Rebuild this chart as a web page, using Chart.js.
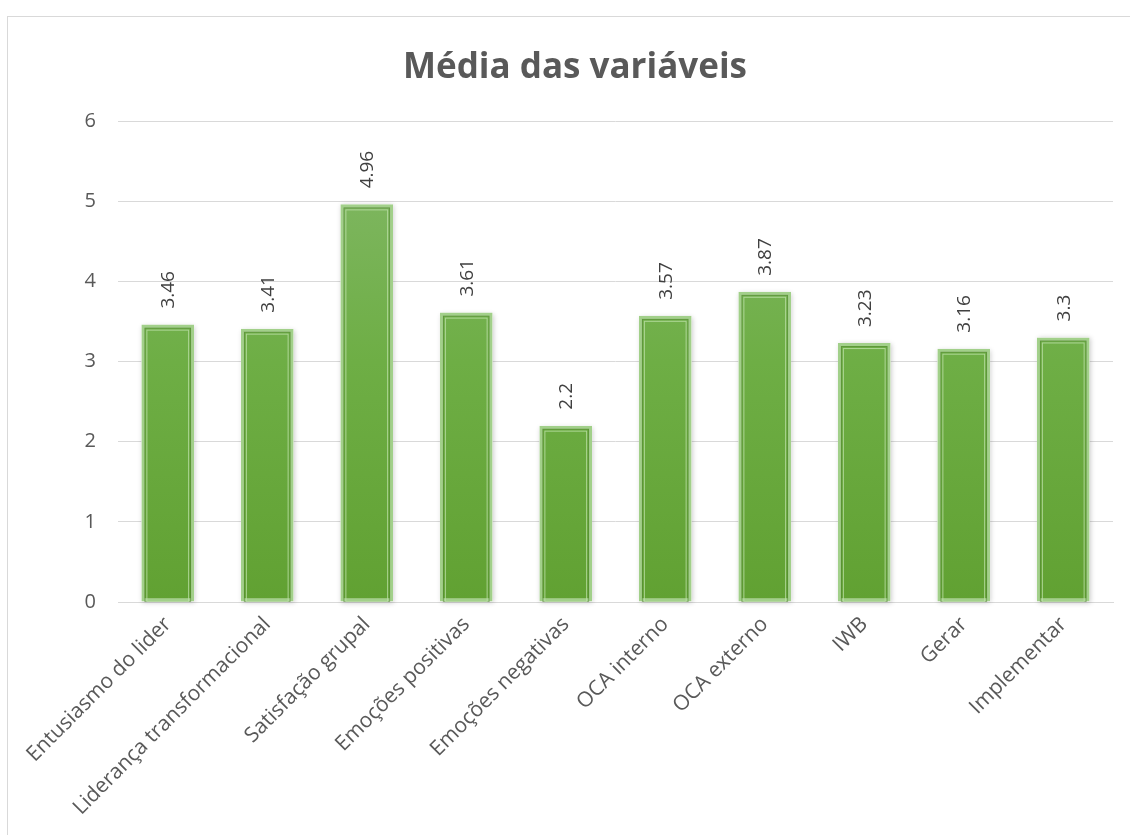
<!DOCTYPE html>
<html><head><meta charset="utf-8">
<script src="https://cdn.jsdelivr.net/npm/chart.js@4/dist/chart.umd.min.js"></script>
<style>
html,body{margin:0;padding:0;background:#fff;}
#wrap{position:relative;width:1130px;height:835px;overflow:hidden;}
#frame{position:absolute;left:7px;top:16px;width:1200px;height:900px;border:1px solid #d9d9d9;box-sizing:border-box;}
canvas{position:absolute;left:0;top:0;}
</style></head>
<body>
<div id="wrap"><div id="frame"></div><canvas id="c" width="1130" height="835"></canvas></div>
<script>
const categories = ["Entusiasmo do lider","Liderança transformacional","Satisfação grupal","Emoções positivas","Emoções negativas","OCA interno","OCA externo","IWB","Gerar","Implementar"];
const values = [3.46,3.41,4.96,3.61,2.2,3.57,3.87,3.23,3.16,3.3];
const yTicks = [0,1,2,3,4,5,6];
const titleText = "Média das variáveis";

const FONT = "'Open Sans', 'Liberation Sans', sans-serif";

const titlePlugin = {
  id:'titleText',
  afterDraw(chart){
    const ctx = chart.ctx;
    ctx.save();
    ctx.font = "bold 35px " + FONT;
    ctx.fillStyle = "#595959";
    ctx.textAlign = "center";
    ctx.textBaseline = "middle";
    ctx.fillText(titleText, 575, 68);
    ctx.restore();
  }
};

const labelPlugin = {
  id:'vlabels',
  afterDatasetsDraw(chart){
    const ctx = chart.ctx;
    const meta = chart.getDatasetMeta(0);
    ctx.save();
    ctx.font = "19px " + FONT;
    ctx.fillStyle = "#404040";
    ctx.textAlign = "left";
    ctx.textBaseline = "middle";
    meta.data.forEach((bar,i)=>{
      ctx.save();
      ctx.translate(bar.x + 1, bar.y - 16);
      ctx.rotate(-Math.PI/2);
      ctx.fillText(String(values[i]), 0, 0);
      ctx.restore();
    });
    ctx.restore();
  }
};

const innerLine = {
  id:'innerLine',
  beforeDatasetsDraw(chart){
    const ctx = chart.ctx;
    const meta = chart.getDatasetMeta(0);
    ctx.save();
    ctx.shadowColor = "rgba(0,0,0,0.22)";
    ctx.shadowBlur = 5;
    ctx.shadowOffsetX = 1;
    ctx.shadowOffsetY = 1;
    ctx.fillStyle = "#fff";
    meta.data.forEach(bar=>{
      const w = bar.width;
      ctx.fillRect(bar.x - w/2, bar.y, w, bar.base - bar.y);
    });
    ctx.restore();
  },
  afterDatasetsDraw(chart){
    const ctx = chart.ctx;
    const meta = chart.getDatasetMeta(0);
    ctx.save();
    meta.data.forEach(bar=>{
      const w = bar.width;
      const l = bar.x - w/2 + 3.5, r = bar.x + w/2 - 3.5;
      const t = bar.y + 3.5, b = bar.base;
      ctx.strokeStyle = "rgba(80,130,50,0.55)";
      ctx.lineWidth = 1;
      ctx.strokeRect(l, t, r-l, b-t);
      ctx.strokeStyle = "rgba(190,225,170,0.8)";
      ctx.strokeRect(l+2, t+2, r-l-4, b-t-2);
    });
    ctx.restore();
  }
};

new Chart(document.getElementById('c'), {
  type:'bar',
  data:{
    labels:categories,
    datasets:[{
      data:values,
      backgroundColor:(c)=>{
        const ch = c.chart; const a = ch.chartArea;
        if(!a) return '#70ad47';
        const g = ch.ctx.createLinearGradient(0,a.top,0,a.bottom);
        g.addColorStop(0,'#84b96a');
        g.addColorStop(0.5,'#6eae45');
        g.addColorStop(1,'#61a132');
        return g;
      },
      borderColor:'#a2d08a',
      borderWidth:3,
      borderSkipped:false,
      categoryPercentage:1,
      barPercentage:0.53
    }]
  },
  plugins:[innerLine, labelPlugin, titlePlugin],
  options:{
    responsive:false,
    animation:false,
    devicePixelRatio:1,
    layout:{padding:{left:0,right:17,top:121,bottom:0}},
    plugins:{
      legend:{display:false},
      tooltip:{enabled:false},
      title:{display:false}
    },
    scales:{
      y:{
        min:0,max:6,
        afterBuildTicks(s){ s.ticks = yTicks.map(v=>({value:v})); },
        afterFit(s){ s.width = 118; },
        grid:{color:'#d9d9d9',drawTicks:false,lineWidth:1},
        border:{display:false},
        ticks:{color:'#595959',font:{family:FONT,size:20},padding:22}
      },
      x:{
        afterFit(s){ s.height = 233; },
        grid:{display:false,drawTicks:false},
        border:{display:true,color:'#d9d9d9',width:1},
        ticks:{color:'#595959',font:{family:FONT,size:21},minRotation:45,maxRotation:45,padding:10,autoSkip:false}
      }
    }
  }
});
</script>
</body></html>
